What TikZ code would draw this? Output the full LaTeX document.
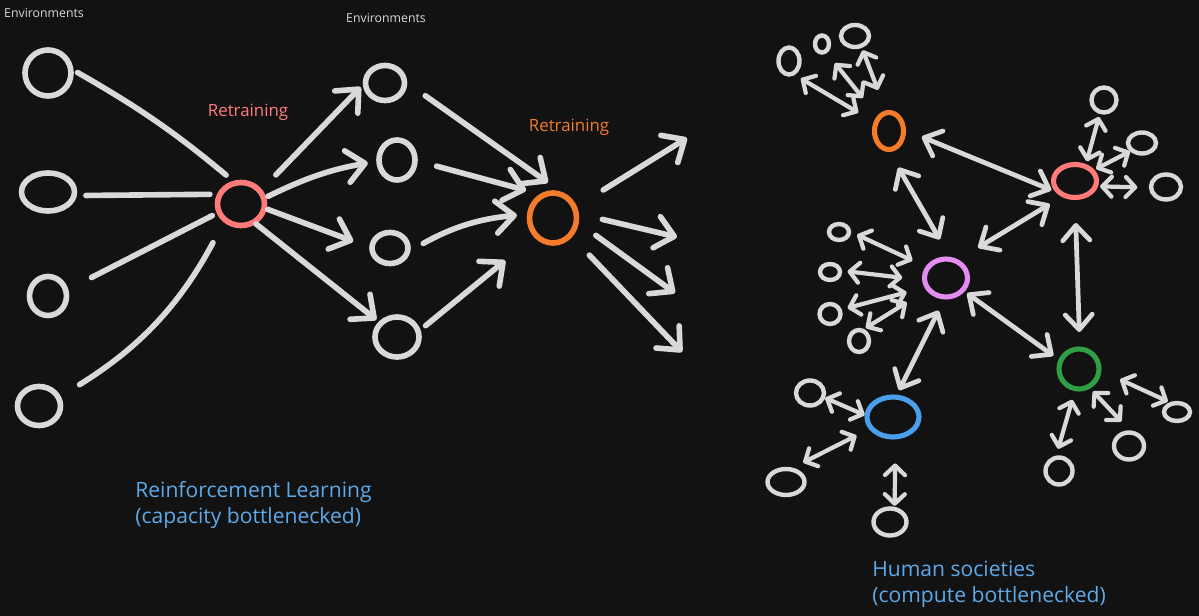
\documentclass[tikz,border=0pt]{standalone}
\usepackage{fontspec}
\setmainfont{Open Sans}
\usepackage{xcolor}
\usepackage{tikz}
\usetikzlibrary{arrows.meta, positioning, shapes.geometric}
\definecolor{fond}{HTML}{121212}
\definecolor{craie}{HTML}{D9D9D9}
\definecolor{rosa}{HTML}{FF7B7B}
\definecolor{orangeh}{HTML}{F27B2C}
\definecolor{mauve}{HTML}{E38CF2}
\definecolor{vertf}{HTML}{2F9E44}
\definecolor{bleuh}{HTML}{4A9EEA}
\definecolor{bleutexte}{HTML}{5DA9E9}
\tikzset{
  anneau/.style 2 args={ellipse, draw=craie, line width=3.2pt, inner sep=0pt,
    minimum width=#1, minimum height=#2},
  centre/.style 2 args={anneau={#1}{#2}, line width=2.9pt},
  petit/.style 2 args={anneau={#1}{#2}, line width=2.5pt},
  trait/.style={draw=craie, line width=3.2pt, line cap=round},
  fleche/.style={trait, -{Straight Barb[length=3.6mm, width=6.4mm, round]}},
  lien/.style={draw=craie, line width=2.7pt, line cap=round,
    >={Straight Barb[length=3mm, width=5.4mm, round]}, <->},
  petitlien/.style={lien, line width=2.4pt,
    >={Straight Barb[length=1.9mm, width=4mm, round]}},
  titre/.style={font=\fontsize{7}{8}\selectfont, text=craie, inner sep=0pt},
  retrain/.style={font=\fontsize{9.6}{10}\selectfont, inner sep=0pt},
  legende/.style={font=\fontsize{12}{14.7}\selectfont, text=bleutexte,
    align=left, anchor=west, inner sep=0pt},
}
\begin{document}
\begin{tikzpicture}[x=0.2mm, y=-0.2mm]
    \fill[fond] (0,0) rectangle (1199,616);

    % reinforcement learning
    \node[titre] (envtitre1) at (44,13) {Environments};
    \node[titre] (envtitre2) at (386,18) {Environments};

    \node[anneau={9.2mm}{9.2mm}] (env1) at (48,73) {};
    \node[anneau={10.6mm}{7.6mm}] (env2) at (48,192) {};
    \node[anneau={7.4mm}{7.8mm}] (env3) at (48,296) {};
    \node[anneau={8.6mm}{7.8mm}] (env4) at (39,406) {};
    \node[anneau={9.4mm}{8.6mm}, draw=rosa] (agent1) at (241,204) {};
    \node[retrain, text=rosa] (retrain1) at (248,112) {Retraining};

    \node[anneau={7.8mm}{7mm}] (mid1) at (385,83) {};
    \node[anneau={7.2mm}{8mm}] (mid2) at (397,160) {};
    \node[anneau={7.2mm}{6.2mm}] (mid3) at (390,248) {};
    \node[anneau={8.8mm}{8mm}] (mid4) at (397,337) {};
    \node[anneau={9.4mm}{10mm}, draw=orangeh] (agent2) at (553,218) {};
    \node[retrain, text=orangeh] (retrain2) at (569,127) {Retraining};

    \coordinate (out1) at (687,138);
    \coordinate (out2) at (677,237);
    \coordinate (out3) at (675,293);
    \coordinate (out4) at (682,352);

    \draw[trait, shorten <=0.9mm, shorten >=1.8mm] (env1.6) to[bend left=5] (agent1.109);
    \draw[trait, shorten <=1.8mm, shorten >=1.4mm] (env2.353) -- (agent1.158);
    \draw[trait, shorten <=5.2mm, shorten >=1mm] (env3.18) -- (agent1.201);
    \draw[trait, shorten <=4.4mm, shorten >=4.6mm] (env4.24) to[bend right=15] (agent1.227);

    \draw[fleche, shorten <=4mm, shorten >=0.6mm] (agent1.35) -- (mid1.185);
    \draw[fleche, shorten <=0.4mm, shorten >=1.7mm] (agent1.15) to[bend left=8] (mid2.184);
    \draw[fleche, shorten <=0.2mm, shorten >=3.4mm] (agent1.349) -- (mid3.178);
    \draw[fleche, shorten >=0.6mm] (agent1.307) -- (mid4.140);

    \draw[fleche, shorten <=4.4mm, shorten >=3mm] (mid1.0) -- (agent2.75);
    \draw[fleche, shorten <=3.9mm, shorten >=2.8mm] (mid2.357) -- (agent2.119);
    \draw[fleche, shorten <=2.9mm, shorten >=2mm] (mid3.353) to[bend left=12] (agent2.172);
    \draw[fleche, shorten <=1.3mm, shorten >=7.4mm] (mid4.17) -- (agent2.225);

    \draw[fleche, shorten <=6.2mm] (agent2.26) -- (out1);
    \draw[fleche, shorten <=4.8mm] (agent2.9) -- (out2);
    \draw[fleche, shorten <=4.2mm] (agent2.349) -- (out3);
    \draw[fleche, shorten <=5mm] (agent2.315) -- (out4);

    \node[legende] (legrl) at (135,505) {Reinforcement Learning\\(capacity bottlenecked)};

    % human societies
    \node[centre={5.8mm}{7.4mm}, draw=orangeh] (hubo) at (889,131) {};
    \node[centre={8.6mm}{6.6mm}, draw=rosa] (hubr) at (1075,181) {};
    \node[centre={8.6mm}{7.6mm}, draw=mauve] (hubv) at (946,278) {};
    \node[centre={8mm}{8mm}, draw=vertf] (hubg) at (1079,369) {};
    \node[centre={10.4mm}{8mm}, draw=bleuh] (hubb) at (893,417) {};

    \node[petit={4.2mm}{5.4mm}] (o1) at (789,61) {};
    \node[petit={2.8mm}{3.4mm}] (o2) at (822,44) {};
    \node[petit={5.6mm}{4.4mm}] (o3) at (855,36) {};
    \node[petit={5mm}{5mm}] (r1) at (1104,100) {};
    \node[petit={5.6mm}{4.2mm}] (r2) at (1142,143) {};
    \node[petit={6mm}{5mm}] (r3) at (1166,187) {};
    \node[petit={4mm}{3.2mm}] (v1) at (839,232) {};
    \node[petit={4mm}{3.2mm}] (v2) at (830,272) {};
    \node[petit={4.2mm}{4mm}] (v3) at (830,314) {};
    \node[petit={4mm}{4.4mm}] (v4) at (859,341) {};
    \node[petit={5.2mm}{3.6mm}] (g1) at (1177,412) {};
    \node[petit={6mm}{5.4mm}] (g2) at (1129,446) {};
    \node[petit={5.4mm}{5.4mm}] (g3) at (1059,471) {};
    \node[petit={5.6mm}{5mm}] (b1) at (810,393) {};
    \node[petit={7.4mm}{5.2mm}] (b2) at (786,482) {};
    \node[petit={6.6mm}{5.4mm}] (b3) at (890,522) {};

    \draw[lien, shorten <=3.4mm, shorten >=0.8mm] (hubo.2) -- (hubr.208);
    \draw[lien, shorten <=3.6mm, shorten >=4mm] (hubo.271) -- (hubv.80);
    \draw[lien, shorten <=2.8mm, shorten >=4.6mm] (hubr.230) -- (hubv.56);
    \draw[lien, shorten <=4.6mm, shorten >=2.9mm] (hubr.270) -- (hubg.88);
    \draw[lien, shorten <=0.6mm, shorten >=1.3mm] (hubv.324) -- (hubg.155);
    \draw[lien, shorten <=2.5mm, shorten >=1mm] (hubv.265) -- (hubb.80);

    \draw[petitlien, shorten <=1.4mm, shorten >=3.6mm] (o1.293) -- (hubo.149);
    \draw[petitlien, shorten <=2.6mm, shorten >=4.6mm] (o2.298) -- (hubo.128);
    \draw[petitlien, shorten <=0.5mm, shorten >=4.4mm] (o3.300) -- (hubo.99);

    \draw[petitlien, shorten <=0.6mm, shorten >=0.6mm] (r1.253) -- (hubr.57);
    \draw[petitlien, shorten >=0.4mm] (r2.215) -- (hubr.30);
    \draw[petitlien, shorten <=0.4mm, shorten >=2.3mm] (hubr.347) -- (r3.182);

    \draw[petitlien, shorten <=1.3mm, shorten >=2.9mm] (v1.0) -- (hubv.151);
    \draw[petitlien, shorten <=1.1mm, shorten >=4mm] (v2.6) -- (hubv.185);
    \draw[petitlien, shorten <=1.2mm, shorten >=3.7mm] (v3.21) -- (hubv.204);
    \draw[petitlien, shorten <=0.4mm, shorten >=4.6mm] (v4.67) -- (hubv.212);

    \draw[petitlien, shorten <=0.4mm, shorten >=4.1mm] (g1.127) -- (hubg.355);
    \draw[petitlien, shorten <=2.4mm, shorten >=0.8mm] (g2.88) -- (hubg.300);
    \draw[petitlien, shorten <=1.4mm, shorten >=1.8mm] (g3.100) -- (hubg.259);

    \draw[petitlien] (b1.342) -- (hubb.176);
    \draw[petitlien, shorten <=2.3mm, shorten >=2.8mm] (b2.64) -- (hubb.207);
    \draw[petitlien, shorten <=0.2mm, shorten >=4.8mm] (b3.73) -- (hubb.276);

    \node[legende] (legsoc) at (872,584) {Human societies\\(compute bottlenecked)};
\end{tikzpicture}
\end{document}
